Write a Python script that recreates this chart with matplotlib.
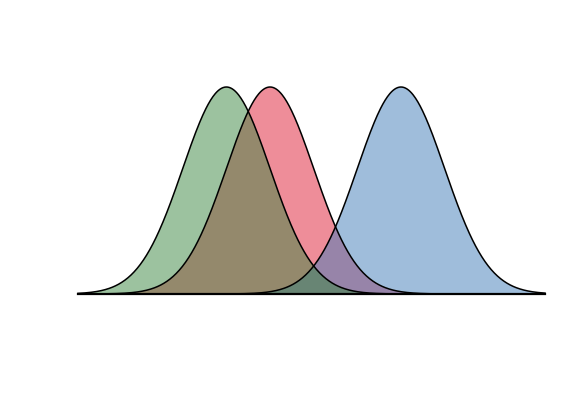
import numpy as np
import matplotlib.pyplot as plt

# three normal densities (mean, sd), drawn in this order
labels = ["red", "blue", "green"]
means = [1.0, 4.0, 0.0]
sds = [1.0, 1.0, 1.0]
colors = ["#DF1D35", "#417DB9", "#3B8741"]

x_min, x_max = -3.4, 7.3


def normal_pdf(x, mu, sd):
    return np.exp(-0.5 * ((x - mu) / sd) ** 2) / (sd * np.sqrt(2 * np.pi))


fig = plt.figure(figsize=(5.87, 4.01), dpi=100)
ax = fig.add_axes([78 / 587, (401 - 294) / 401, (545 - 78) / 587, (294 - 87) / 401])

x = np.linspace(x_min, x_max, 600)
for label, mu, sd, color in zip(labels, means, sds, colors):
    y = normal_pdf(x, mu, sd)
    ax.fill_between(x, 0, y, facecolor=color, alpha=0.5, edgecolor="none")
    ax.plot(x, y, color="black", linewidth=1.1, clip_on=False)

ax.plot([x_min, x_max], [0, 0], color="black", linewidth=1.6, clip_on=False)
ax.set_xlim(x_min, x_max)
ax.set_ylim(0, normal_pdf(0, 0, 1))
ax.axis("off")

fig.savefig("out.png", dpi=100)
